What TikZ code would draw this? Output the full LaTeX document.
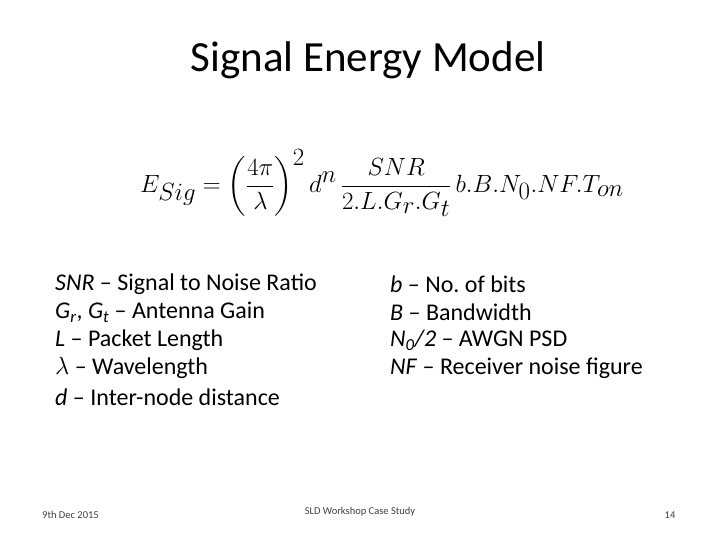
\documentclass[tikz,border=0pt]{standalone}
\usepackage{amsmath}
\usepackage{fontspec}
\setmainfont{Carlito}
\frenchspacing
\begin{document}
\begin{tikzpicture}[x=1pt,y=-1pt,
  body/.style={anchor=west,font=\fontsize{24}{28}\selectfont,inner sep=0pt},
  foot/.style={font=\fontsize{10.5}{12}\selectfont,inner sep=0pt,text=black!75}]
\useasboundingbox (0,0) rectangle (720,540);
\node[font=\fontsize{43}{50}\selectfont] (title) at (368,60) {Signal Energy Model};
\node (eq) at (382,183) {\fontsize{39}{46}\selectfont$\displaystyle E_{Sig}=\left(\frac{4\pi}{\lambda}\right)^{2} d^{n}\,\frac{SNR}{2.L.G_r.G_t}\,b.B.N_0.NF.T_{on}$};
\node[body] (l1) at (55,284) {\textit{SNR} -- Signal to Noise Ratio};
\node[body] (l2) at (55,312) {\textit{G\textsubscript{r}}, \textit{G\textsubscript{t}} -- Antenna Gain};
\node[body] (l3) at (55,340) {\textit{L} -- Packet Length};
\node[body] (l4) at (55,368) {{\fontsize{30}{30}\selectfont$\lambda$} -- Wavelength};
\node[body] (l5) at (55,397) {\textit{d} -- Inter-node distance};
\node[body] (r1) at (390,284) {\textit{b} -- No. of bits};
\node[body] (r2) at (390,312) {\textit{B} -- Bandwidth};
\node[body] (r3) at (390,340) {\textit{N\textsubscript{0}}\textit{/2} -- AWGN PSD};
\node[body] (r4) at (390,368) {\textit{NF} -- Receiver noise figure};
\node[foot,anchor=west] (f1) at (42,515) {9th Dec 2015};
\node[foot] (f2) at (360,512) {SLD Workshop Case Study};
\node[foot] (f3) at (670,515) {14};
\end{tikzpicture}
\end{document}
